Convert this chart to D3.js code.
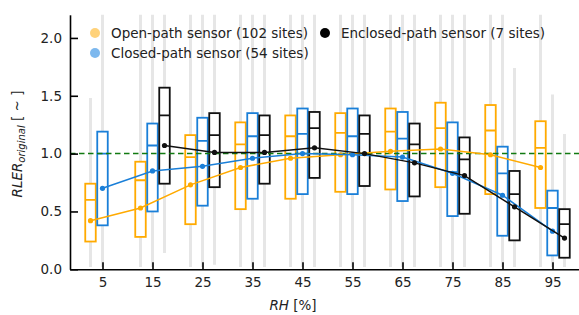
<!DOCTYPE html>
<html>
<head>
<meta charset="utf-8">
<title>RLER vs RH</title>
<script src="https://d3js.org/d3.v7.min.js"></script>
<style>
    body { margin: 0; background: #fff; }
    svg text { font-family: "DejaVu Sans", "DejaVuSans", "Bitstream Vera Sans", Verdana, "Open Sans", sans-serif; }
    .axis path, .axis line { stroke: #000; stroke-width: 1.6px; }
    .axis text { font-size: 13.5px; fill: #222; }
</style>
</head>
<body>
<svg width="579" height="315"></svg>
<script>
// RH bins (tick labels)
const bins = [5, 15, 25, 35, 45, 55, 65, 75, 85, 95];

// open-path sensor
const openQ1   = [0.24, 0.28, 0.39, 0.52, 0.61, 0.67, 0.69, 0.71, 0.65, 0.53];
const openMed  = [0.60, 0.77, 0.97, 1.08, 1.15, 1.18, 1.19, 1.22, 1.20, 1.05];
const openQ3   = [0.74, 0.93, 1.16, 1.27, 1.33, 1.35, 1.39, 1.44, 1.42, 1.28];
const openMean = [0.42, 0.53, 0.73, 0.88, 0.96, 0.99, 1.02, 1.04, 0.99, 0.88];
const openLo   = [0.02, 0.02, 0.02, 0.02, 0.02, 0.02, 0.02, 0.02, 0.02, 0.02];
const openHi   = [1.48, 2.5, 2.5, 2.5, 2.5, 2.5, 2.5, 2.5, 2.5, 2.5];

// closed-path sensor
const closedQ1   = [0.38, 0.50, 0.55, 0.61, 0.65, 0.65, 0.59, 0.46, 0.29, 0.12];
const closedMed  = [1.00, 1.07, 1.11, 1.15, 1.17, 1.15, 1.13, 0.84, 0.83, 0.53];
const closedQ3   = [1.19, 1.26, 1.31, 1.35, 1.39, 1.39, 1.36, 1.27, 1.06, 0.68];
const closedMean = [0.70, 0.85, 0.89, 0.96, 1.00, 0.99, 0.97, 0.83, 0.64, 0.33];
const closedLo   = [0.02, 0.02, 0.02, 0.02, 0.02, 0.02, 0.02, 0.02, 0.02, 0.02];
const closedHi   = [2.5, 2.5, 2.5, 2.5, 2.5, 2.5, 2.5, 2.5, 2.5, 1.51];

// enclosed-path sensor (no data in first bin)
const enclQ1   = [null, 0.74, 0.71, 0.74, 0.79, 0.72, 0.63, 0.48, 0.25, 0.10];
const enclMed  = [null, 1.33, 1.16, 1.16, 1.22, 1.17, 1.08, 0.95, 0.65, 0.39];
const enclQ3   = [null, 1.57, 1.35, 1.33, 1.36, 1.33, 1.26, 1.14, 0.85, 0.52];
const enclMean = [null, 1.07, 1.01, 1.01, 1.05, 1.00, 0.92, 0.81, 0.54, 0.27];
const enclLo   = [null, 0.14, 0.04, 0.02, 0.02, 0.02, 0.02, 0.02, 0.02, 0.02];
const enclHi   = [null, 2.5, 2.5, 2.5, 2.5, 2.5, 2.5, 2.5, 1.74, 1.17];

const seriesNames = ["Open-path sensor (102 sites)", "Closed-path sensor (54 sites)", "Enclosed-path sensor (7 sites)"];

const series = [
    {name: seriesNames[0], color: "#ffaa00", legend: "#ffd27a", off: -2.4, q1: openQ1, med: openMed, q3: openQ3, mean: openMean, lo: openLo, hi: openHi},
    {name: seriesNames[1], color: "#1a7fd8", legend: "#7db8ee", off: 0, q1: closedQ1, med: closedMed, q3: closedQ3, mean: closedMean, lo: closedLo, hi: closedHi},
    {name: seriesNames[2], color: "#111111", legend: "#000000", off: 2.4, q1: enclQ1, med: enclMed, q3: enclQ3, mean: enclMean, lo: enclLo, hi: enclHi}
];

const svg = d3.select("svg");
const x = d3.scaleLinear().domain([-1.5, 100.5]).range([70, 580]);
const y = d3.scaleLinear().domain([0, 2.2]).range([269.3, 14.8]);
const boxW = 2.1; // in RH units

svg.append("defs").append("clipPath").attr("id", "plot")
    .append("rect").attr("x", 70).attr("y", 14.8).attr("width", 510).attr("height", 254.5);

const plot = svg.append("g").attr("clip-path", "url(#plot)");

// light grey whiskers behind everything
series.forEach(s => {
    plot.append("g").selectAll("line")
        .data(bins.map((b, i) => ({b, lo: s.lo[i], hi: s.hi[i]})).filter(d => d.lo != null))
        .enter().append("line")
        .attr("x1", d => x(d.b + s.off)).attr("x2", d => x(d.b + s.off))
        .attr("y1", d => y(d.lo)).attr("y2", d => y(d.hi))
        .attr("stroke", "#e6e6e6").attr("stroke-width", 3);
});

// boxes
series.forEach(s => {
    const data = bins.map((b, i) => ({b, q1: s.q1[i], med: s.med[i], q3: s.q3[i]})).filter(d => d.q1 != null);
    const g = plot.append("g");
    g.selectAll("rect").data(data).enter().append("rect")
        .attr("x", d => x(d.b + s.off - boxW / 2))
        .attr("width", d => x(boxW) - x(0))
        .attr("y", d => y(d.q3))
        .attr("height", d => y(d.q1) - y(d.q3))
        .attr("fill", "#fff")
        .attr("stroke", s.color).attr("stroke-width", 1.8);
    g.selectAll("line").data(data).enter().append("line")
        .attr("x1", d => x(d.b + s.off - boxW / 2)).attr("x2", d => x(d.b + s.off + boxW / 2))
        .attr("y1", d => y(d.med)).attr("y2", d => y(d.med))
        .attr("stroke", s.color).attr("stroke-width", 1.8);
});

// reference line at 1
plot.append("line")
    .attr("x1", x(-1.5)).attr("x2", x(100.5))
    .attr("y1", y(1)).attr("y2", y(1))
    .attr("stroke", "#117a11").attr("stroke-width", 1.5)
    .attr("stroke-dasharray", "5.5,3.5");

// mean lines
series.forEach(s => {
    const pts = bins.map((b, i) => ({b, v: s.mean[i]})).filter(d => d.v != null);
    plot.append("path")
        .datum(pts)
        .attr("fill", "none").attr("stroke", s.color).attr("stroke-width", 1.5)
        .attr("d", d3.line().x(d => x(d.b + s.off)).y(d => y(d.v)));
    plot.append("g").selectAll("circle").data(pts).enter().append("circle")
        .attr("cx", d => x(d.b + s.off)).attr("cy", d => y(d.v))
        .attr("r", 2.6).attr("fill", s.color);
});

// axes
const xAxis = svg.append("g").attr("class", "axis")
    .attr("transform", `translate(0,${y(0)})`)
    .call(d3.axisBottom(x).tickValues(bins).tickSizeInner(-7).tickSizeOuter(0).tickPadding(8.5));
const yAxis = svg.append("g").attr("class", "axis")
    .attr("transform", `translate(${x(-1.5)},0)`)
    .call(d3.axisLeft(y).tickValues([0, 0.5, 1, 1.5, 2]).tickFormat(d3.format(".1f"))
        .tickSizeInner(-8).tickSizeOuter(0).tickPadding(8));
svg.selectAll(".axis").attr("font-family", null);

// axis titles
const xt = svg.append("text").attr("x", 293).attr("y", 310)
    .attr("text-anchor", "middle").attr("font-size", 13.5).attr("fill", "#222");
xt.append("tspan").attr("font-style", "italic").text("RH");
xt.append("tspan").text(" [%]");

const yt = svg.append("text").attr("transform", "translate(22,144) rotate(-90)")
    .attr("text-anchor", "middle").attr("font-size", 13.5).attr("fill", "#222");
yt.append("tspan").attr("font-style", "italic").text("RLER");
yt.append("tspan").attr("font-style", "italic").attr("font-size", 10).attr("dy", 3).text("original");
yt.append("tspan").attr("dy", -3).text(" [ ~ ]");

// legend
const legendPos = [[95, 33], [95, 53], [325, 33]];
series.forEach((s, i) => {
    const [lx, ly] = legendPos[i];
    svg.append("circle").attr("cx", lx).attr("cy", ly).attr("r", 5).attr("fill", s.legend);
    svg.append("text").attr("x", lx + 16).attr("y", ly + 5)
        .attr("font-size", 13.5).attr("fill", "#222").text(s.name);
});
</script>
</body>
</html>
